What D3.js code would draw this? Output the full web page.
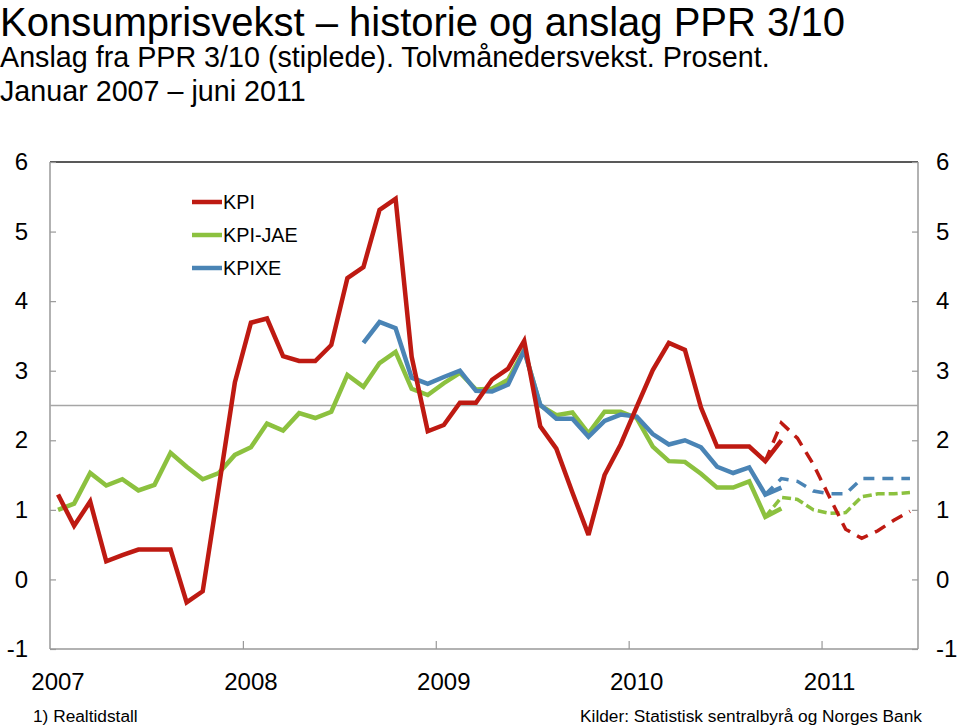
<!DOCTYPE html>
<html><head><meta charset="utf-8">
<script src="https://cdn.jsdelivr.net/npm/d3@7"></script>
<style>
body{margin:0;background:#fff;}
svg{display:block;font-family:"Liberation Sans",Arial,sans-serif;}
</style></head>
<body><svg id="c" width="960" height="727"></svg>
<script>
// ---- data (monthly, Jan 2007 = index 0) ----
const years = ["2007","2008","2009","2010","2011"];
const yTicks = [-1,0,1,2,3,4,5,6];
const kpi = [1.22,0.77,1.12,0.26,0.35,0.43,0.43,0.43,-0.33,-0.17,1.32,2.83,
  3.69,3.75,3.21,3.14,3.14,3.37,4.33,4.49,5.31,5.47,3.2,2.13,
  2.22,2.54,2.54,2.87,3.03,3.43,2.2,1.88,1.25,0.64,1.5,1.94,
  2.48,3.01,3.4,3.3,2.47,1.91,1.91,1.91,1.7,2.0];
const kpiJae = [1.0,1.09,1.53,1.35,1.44,1.28,1.36,1.82,1.62,1.44,1.53,1.79,
  1.9,2.24,2.14,2.39,2.32,2.41,2.94,2.77,3.11,3.27,2.74,2.65,
  2.82,2.97,2.73,2.74,2.87,3.3,2.5,2.36,2.4,2.1,2.41,2.41,
  2.32,1.91,1.7,1.69,1.52,1.32,1.32,1.41,0.9,1.02];
const kpixeStart = 19; // Aug 2008
const kpixe = [3.4,3.7,3.61,2.9,2.81,
  2.91,3.0,2.71,2.7,2.8,3.29,2.51,2.31,2.31,2.05,2.28,2.37,
  2.34,2.09,1.94,2.0,1.9,1.62,1.53,1.61,1.22,1.32];
const fcStart = 44; // Sep 2010
const kpiFc = [1.7,2.25,2.03,1.65,1.18,0.72,0.59,0.7,0.85,0.98];
const kpiJaeFc = [0.9,1.18,1.15,1.0,0.95,0.96,1.19,1.23,1.23,1.25];
const kpixeFc = [1.22,1.45,1.41,1.27,1.23,1.23,1.45,1.45,1.45,1.45];
const target = 2.5;
const legendNames = ["KPI","KPI-JAE","KPIXE"];
const colors = ["#BE1A12","#8CC13F","#4A84B5"];

// ---- layout ----
const svg = d3.select("#c");
const L=50, R=918, T=162, B=649;
const x = d3.scaleLinear().domain([0,54]).range([L,R]);
const y = d3.scaleLinear().domain([-1,6]).range([B,T]);

// titles
svg.append("text").attr("x",0).attr("y",36).attr("font-size",40).attr("fill","#000")
  .text("Konsumprisvekst \u2013 historie og anslag PPR 3/10");
svg.append("text").attr("x",0).attr("y",67).attr("font-size",28.7).attr("fill","#000")
  .text("Anslag fra PPR 3/10 (stiplede). Tolvmånedersvekst. Prosent.");
svg.append("text").attr("x",0).attr("y",101).attr("font-size",28.7).attr("fill","#000")
  .text("Januar 2007 \u2013 juni 2011");

// frame
svg.append("line").attr("x1",L).attr("x2",R).attr("y1",T).attr("y2",T).attr("stroke","#222").attr("stroke-width",1.3);
svg.append("line").attr("x1",L).attr("x2",R).attr("y1",B).attr("y2",B).attr("stroke","#999").attr("stroke-width",1.5);
svg.append("line").attr("x1",L).attr("x2",L).attr("y1",T).attr("y2",B).attr("stroke","#999").attr("stroke-width",1.5);
svg.append("line").attr("x1",R).attr("x2",R).attr("y1",T).attr("y2",B).attr("stroke","#999").attr("stroke-width",1.5);

// y axes
const fmt = d => String(d);
const yl = d3.axisLeft(y).tickValues(yTicks).tickSize(-6).tickPadding(22).tickFormat(fmt);
const gl = svg.append("g").attr("transform",`translate(${L},0)`).call(yl);
const yr = d3.axisRight(y).tickValues(yTicks).tickSize(-6).tickPadding(18).tickFormat(fmt);
const gr = svg.append("g").attr("transform",`translate(${R},0)`).call(yr);
[gl,gr].forEach(g=>{
  g.select(".domain").remove();
  g.selectAll(".tick line").attr("stroke","#999").attr("stroke-width",1.2);
  g.selectAll(".tick text").attr("font-size",24).attr("fill","#000").attr("font-family","Liberation Sans, Arial, sans-serif");
});

// x axis ticks at year boundaries
const xb = d3.axisBottom(x).tickValues([12,24,36,48]).tickSize(-8).tickFormat("");
const gx = svg.append("g").attr("transform",`translate(0,${B})`).call(xb);
gx.select(".domain").remove();
gx.selectAll(".tick line").attr("stroke","#999").attr("stroke-width",1.2);
svg.selectAll(".xlab").data(years).enter().append("text")
  .attr("x",(d,i)=>x(i*12+0.5)).attr("y",690).attr("text-anchor","middle")
  .attr("font-size",24).attr("fill","#000").text(d=>d);

// target line
svg.append("line").attr("x1",L).attr("x2",R).attr("y1",y(target)).attr("y2",y(target))
  .attr("stroke","#a6a6a6").attr("stroke-width",1.5);

const line = d3.line().x(d=>x(d.i+0.5)).y(d=>y(d.v));
const mk = (arr,start)=>arr.map((v,k)=>({i:start+k,v}));

const series = [
  {d:mk(kpi,0), c:colors[0]},
  {d:mk(kpiJae,0), c:colors[1]},
  {d:mk(kpixe,kpixeStart), c:colors[2]}
];
const fcs = [
  {d:mk(kpixeFc,fcStart), c:colors[2], dash:"11,8"},
  {d:mk(kpiJaeFc,fcStart), c:colors[1], dash:"9,4"},
  {d:mk(kpiFc,fcStart), c:colors[0], dash:"12,8"}
];
[series[1],series[2],series[0]].forEach(s=>{
  svg.append("path").attr("d",line(s.d)).attr("fill","none").attr("stroke",s.c)
    .attr("stroke-width",4.5).attr("stroke-linejoin","miter").attr("stroke-miterlimit",3);
});
fcs.forEach(s=>{
  svg.append("path").attr("d",line(s.d)).attr("fill","none").attr("stroke",s.c)
    .attr("stroke-width",3.5).attr("stroke-dasharray",s.dash);
});

// legend
legendNames.forEach((n,i)=>{
  const ly = 202 + i*33;
  svg.append("line").attr("x1",192).attr("x2",222).attr("y1",ly).attr("y2",ly)
    .attr("stroke",colors[i]).attr("stroke-width",4.5);
  svg.append("text").attr("x",223).attr("y",ly+7).attr("font-size",19.8).attr("fill","#000").text(n);
});

// footer
svg.append("text").attr("x",33).attr("y",722).attr("font-size",17.3).attr("fill","#000").text("1) Realtidstall");
svg.append("text").attr("x",922).attr("y",722).attr("text-anchor","end").attr("font-size",17.3).attr("fill","#000")
  .text("Kilder: Statistisk sentralbyrå og Norges Bank");
</script></body></html>
